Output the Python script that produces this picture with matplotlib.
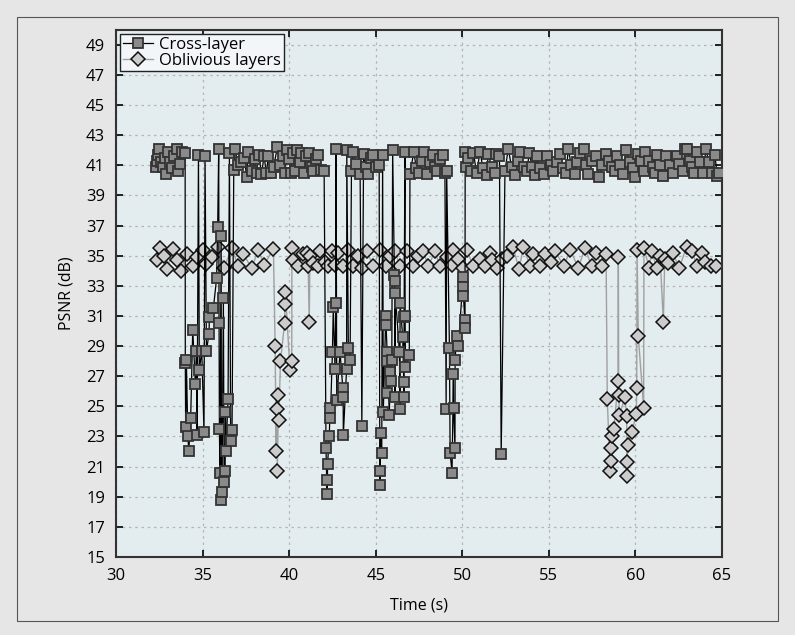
import numpy as np
import matplotlib
matplotlib.use('Agg')
from matplotlib import pyplot as plt
from matplotlib.patches import Rectangle

plt.rcParams['font.family'] = ['Open Sans', 'DejaVu Sans']

# cross-layer: time (s) and PSNR (dB)
cross_t = [32.30, 32.34, 32.42, 32.50, 32.62, 32.70, 32.80, 32.89, 33.02, 33.12,
           33.22, 33.35, 33.50, 33.55, 33.70, 33.80, 33.99, 34.00, 34.02, 34.06,
           34.15, 34.20, 34.31, 34.43, 34.58, 34.64, 34.68, 34.76, 34.81, 34.95,
           35.08, 35.14, 35.22, 35.37, 35.39, 35.62, 35.81, 35.87, 35.93, 35.95,
           35.97, 36.00, 36.07, 36.09, 36.12, 36.20, 36.24, 36.30, 36.32, 36.35,
           36.47, 36.55, 36.62, 36.70, 36.80, 36.87, 37.05, 37.20, 37.40, 37.55,
           37.64, 37.85, 38.00, 38.12, 38.25, 38.40, 38.55, 38.68, 38.80, 38.95,
           39.10, 39.32, 39.50, 39.62, 39.76, 39.86, 40.00, 40.10, 40.20, 40.34,
           40.44, 40.60, 40.70, 40.86, 41.00, 41.17, 41.30, 41.40, 41.55, 41.69,
           41.85, 42.02, 42.13, 42.17, 42.20, 42.22, 42.32, 42.36, 42.38, 42.50,
           42.55, 42.65, 42.70, 42.71, 42.75, 42.94, 43.10, 43.12, 43.13, 43.32,
           43.33, 43.42, 43.52, 43.60, 43.67, 43.86, 44.10, 44.20, 44.30, 44.45,
           44.58, 44.72, 44.86, 45.02, 45.20, 45.24, 45.25, 45.29, 45.35, 45.40,
           45.44, 45.58, 45.60, 45.66, 45.67, 45.68, 45.79, 45.83, 45.90, 45.93,
           45.98, 46.08, 46.10, 46.12, 46.13, 46.37, 46.40, 46.41, 46.56, 46.62,
           46.63, 46.64, 46.69, 46.70, 46.72, 46.94, 46.98, 47.20, 47.35, 47.52,
           47.65, 47.79, 47.98, 48.15, 48.33, 48.45, 48.56, 48.70, 48.90, 49.00,
           49.07, 49.10, 49.26, 49.30, 49.41, 49.49, 49.50, 49.58, 49.59, 49.67,
           49.78, 50.05, 50.06, 50.07, 50.15, 50.16, 50.17, 50.20, 50.35, 50.50,
           50.65, 50.83, 51.03, 51.20, 51.41, 51.50, 51.70, 51.90, 51.95, 52.15,
           52.25, 52.47, 52.66, 52.85, 53.05, 53.20, 53.34, 53.55, 53.73, 53.87,
           54.05, 54.20, 54.34, 54.50, 54.72, 54.91, 55.10, 55.26, 55.45, 55.65,
           55.82, 56.00, 56.13, 56.30, 56.51, 56.65, 56.80, 57.03, 57.15, 57.28,
           57.50, 57.73, 57.92, 58.10, 58.31, 58.50, 58.65, 58.83, 58.92, 59.10,
           59.30, 59.46, 59.70, 59.85, 59.98, 60.17, 60.35, 60.50, 60.56, 60.80,
           61.00, 61.14, 61.23, 61.45, 61.61, 61.80, 62.00, 62.19, 62.38, 62.55,
           62.73, 62.87, 63.00, 63.15, 63.25, 63.39, 63.54, 63.75, 63.93, 64.08,
           64.25, 64.41, 64.60, 64.73, 64.85]
cross_v = [40.9, 41.3, 41.7, 42.1, 41.2, 40.9, 41.5, 40.4, 41.9, 41.2,
           40.8, 41.6, 42.1, 40.65, 41.1, 41.9, 41.85, 27.9, 23.6, 28.1,
           23.0, 22.0, 24.2, 30.1, 26.5, 28.7, 23.1, 41.7, 27.4, 28.7,
           23.3, 41.65, 28.7, 29.8, 30.9, 31.5, 33.5, 36.9, 42.1, 30.5,
           23.5, 20.6, 36.3, 18.8, 19.3, 32.2, 20.0, 20.7, 24.6, 22.0,
           25.5, 41.85, 22.7, 23.4, 40.7, 42.1, 41.0, 41.2, 41.5, 40.25,
           41.9, 40.6, 41.4, 40.5, 41.7, 40.4, 41.6, 40.5, 41.6, 40.5,
           40.9, 42.2, 41.0, 41.6, 40.5, 42.0, 41.4, 40.5, 41.8, 40.65,
           42.0, 41.2, 41.8, 40.5, 41.6, 41.8, 40.9, 40.65, 41.4, 41.7,
           40.7, 40.65, 22.2, 20.1, 19.2, 21.2, 23.0, 24.9, 24.2, 28.6,
           31.6, 27.5, 31.85, 42.1, 25.4, 28.6, 26.2, 25.6, 23.1, 27.5,
           42.0, 28.85, 28.1, 40.65, 41.9, 41.1, 40.4, 23.7, 41.75, 40.9,
           40.4, 41.5, 41.7, 40.9, 41.0, 19.8, 20.7, 23.2, 21.9, 41.7,
           24.65, 31.0, 30.4, 28.6, 25.9, 28.0, 24.4, 27.3, 26.7, 28.1,
           42.0, 33.7, 33.3, 25.6, 32.5, 28.6, 24.8, 31.85, 29.6, 26.6,
           25.6, 30.9, 41.9, 31.0, 27.6, 28.4, 40.4, 41.9, 40.8, 40.5,
           41.3, 41.9, 40.4, 41.2, 41.7, 40.9, 40.65, 41.4, 41.7, 40.5,
           24.8, 40.65, 28.9, 21.9, 20.6, 27.15, 24.9, 22.2, 28.1, 29.7,
           29.0, 33.6, 32.9, 32.3, 30.7, 30.2, 41.9, 40.9, 41.5, 40.6,
           41.8, 40.5, 41.9, 40.8, 40.35, 41.75, 40.9, 40.5, 41.75, 41.6,
           21.8, 40.65, 42.1, 40.9, 40.35, 41.3, 41.9, 40.9, 40.6, 41.8,
           40.9, 40.35, 41.6, 40.8, 40.4, 41.6, 41.0, 40.6, 41.2, 41.75,
           40.8, 40.5, 42.1, 41.0, 40.4, 41.2, 41.8, 42.07, 41.0, 40.4,
           41.3, 41.6, 40.2, 41.0, 41.75, 41.3, 40.9, 40.6, 41.6, 41.0,
           40.4, 42.0, 41.2, 40.8, 40.25, 41.75, 41.3, 40.65, 41.9, 41.3,
           40.9, 40.5, 41.7, 41.0, 40.3, 41.6, 41.0, 40.5, 41.6, 41.1,
           40.6, 42.1, 42.07, 41.3, 40.9, 40.5, 41.9, 41.2, 40.5, 42.07,
           41.2, 40.5, 41.7, 40.3, 40.5]

# oblivious layers
obl_t = [32.34, 32.54, 32.75, 32.96, 33.27, 33.50, 33.73, 34.08, 34.43, 34.70,
         35.00, 35.20, 35.55, 35.90, 36.24, 36.68, 37.06, 37.35, 37.83, 38.22,
         38.55, 39.09, 39.19, 39.25, 39.28, 39.32, 39.38, 39.40, 39.50, 39.74,
         39.76, 39.78, 40.05, 40.15, 40.16, 40.20, 40.50, 40.82, 41.02, 41.10,
         41.16, 41.20, 41.40, 41.69, 41.79, 42.05, 42.27, 42.46, 42.65, 42.84,
         43.13, 43.42, 43.71, 44.00, 44.19, 44.48, 44.86, 45.25, 45.60, 45.85,
         46.12, 46.40, 46.79, 47.17, 47.45, 47.75, 48.04, 48.43, 48.71, 49.10,
         49.39, 49.49, 49.75, 50.06, 50.26, 50.64, 51.00, 51.31, 51.60, 51.70,
         51.98, 52.30, 52.60, 52.92, 53.29, 53.53, 53.92, 54.10, 54.50, 54.78,
         55.11, 55.36, 55.88, 56.23, 56.71, 57.09, 57.48, 57.73, 58.06, 58.31,
         58.38, 58.54, 58.58, 58.62, 58.64, 58.77, 59.00, 59.02, 59.04, 59.08,
         59.40, 59.50, 59.52, 59.54, 59.56, 59.80, 60.06, 60.08, 60.10, 60.17,
         60.48, 60.50, 60.80, 60.95, 61.23, 61.43, 61.62, 61.70, 61.90, 62.16,
         62.54, 62.97, 63.30, 63.55, 63.85, 64.05, 64.40, 64.66]
obl_v = [34.7, 35.5, 35.0, 34.1, 35.45, 34.7, 34.0, 35.1, 34.3, 34.9,
         35.35, 34.45, 34.9, 35.55, 34.2, 35.5, 34.3, 35.1, 34.2, 35.35,
         34.4, 35.45, 29.0, 22.0, 24.8, 20.7, 25.75, 24.1, 28.0, 30.55,
         31.8, 32.6, 27.4, 28.0, 35.5, 34.7, 34.3, 35.1, 35.2, 34.3,
         30.6, 35.0, 34.5, 34.3, 35.3, 34.6, 34.3, 35.3, 34.4, 35.2,
         34.3, 35.4, 34.3, 35.0, 34.2, 35.3, 34.3, 35.4, 34.3, 35.0,
         35.3, 34.3, 35.3, 34.3, 35.0, 35.3, 34.3, 35.3, 34.3, 34.9,
         34.4, 35.4, 34.8, 34.2, 35.4, 34.3, 34.8, 34.3, 35.2, 34.7,
         34.2, 34.8, 35.0, 35.6, 34.1, 35.6, 34.3, 35.1, 34.3, 35.1,
         34.6, 35.3, 34.3, 35.4, 34.2, 35.5, 34.3, 35.2, 34.3, 35.1,
         25.5, 20.7, 21.4, 22.2, 23.0, 23.5, 26.7, 34.9, 25.75, 24.4,
         25.6, 24.35, 20.4, 21.3, 22.4, 23.3, 24.5, 26.2, 35.4, 29.7,
         24.9, 35.5, 34.2, 35.3, 34.2, 35.0, 30.6, 34.8, 34.5, 35.2,
         34.2, 35.6, 35.3, 34.3, 35.2, 34.6, 34.3, 34.3]

x_ticks = [30, 35, 40, 45, 50, 55, 60, 65]
y_ticks = list(range(15, 50, 2))

fig = plt.figure(figsize=(7.95, 6.35), dpi=100)
fig.patch.set_facecolor('#e6e6e6')
fig.patches.append(Rectangle((0.022, 0.022), 0.956, 0.952, transform=fig.transFigure,
                             fill=False, edgecolor='#555555', linewidth=0.8))

ax = fig.add_axes([0.146, 0.123, 0.762, 0.830])
ax.set_facecolor('#e3ecef')

ax.plot(cross_t, cross_v, color='black', linewidth=0.9, marker='s', markersize=7.5,
        markerfacecolor='#8a8a8a', markeredgecolor='#333333', markeredgewidth=1.3,
        label='Cross-layer', zorder=3)
ax.plot(obl_t, obl_v, color='#a0a0a0', linewidth=1.0, marker='D', markersize=7,
        markerfacecolor='#cccccc', markeredgecolor='#111111', markeredgewidth=1.1,
        label='Oblivious layers', zorder=2)

ax.set_xlim(30, 65)
ax.set_ylim(15, 50)
ax.set_xticks(x_ticks)
ax.set_yticks(y_ticks)
ax.tick_params(direction='in', top=True, right=True, length=5, width=1.2,
               labelsize=12, pad=8)
ax.grid(True, linestyle=(0, (2, 3)), color='#b5b5b5', linewidth=0.9)
for s in ax.spines.values():
    s.set_linewidth(1.5)
    s.set_color('#333333')

ax.set_xlabel('Time (s)', fontsize=11.5, labelpad=10)
ax.set_ylabel('PSNR (dB)', fontsize=11.5, labelpad=8)

leg = ax.legend(loc='upper left', fontsize=12, handlelength=1.8, borderpad=0.15,
                labelspacing=0.0, handletextpad=0.4, fancybox=False, framealpha=1,
                borderaxespad=0.25)
leg.get_frame().set_edgecolor('#222222')
leg.get_frame().set_facecolor('#f3f6f8')
leg.get_frame().set_linewidth(1.0)

plt.savefig('out.png', dpi=100, facecolor=fig.get_facecolor())
